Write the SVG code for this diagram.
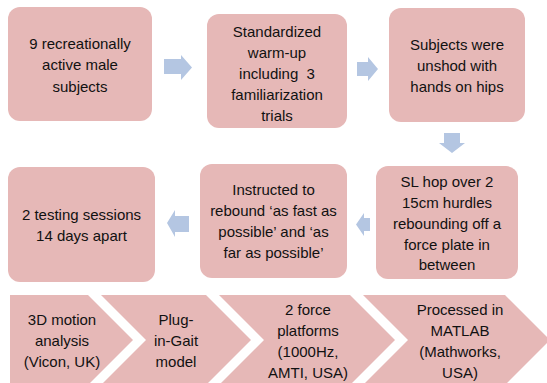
<svg xmlns="http://www.w3.org/2000/svg" width="547" height="383" viewBox="0 0 547 383">
  <style>
    .box { fill: #E6B8B7; }
    .arr { fill: #B4C6E2; }
    text { font-family: "Liberation Sans", Arial, sans-serif; font-size: 15px; fill: #111; text-anchor: middle; }
  </style>
  <rect width="547" height="383" fill="#ffffff"/>
  <g id="connectors">
    <polygon class="arr" points="164,59 181,59 181,55 192,67.5 181,80 181,74 164,74"/>
    <polygon class="arr" points="357,62 368,62 368,57 378,69 368,81 368,76 357,76"/>
    <polygon class="arr" points="444,133 460,133 460,143 465,143 452,153 439,143 444,143"/>
    <polygon class="arr" points="189,216 175,216 175,210 167,223 175,237 175,232 189,232"/>
    <polygon class="arr" points="370,218 364,218 364,213 356,224.5 364,236 364,231 370,231"/>
  </g>
  <g id="n1">
    <rect class="box" x="8" y="7" width="144" height="114" rx="12"/>
    <text x="80" y="48.5">9 recreationally</text>
    <text x="80" y="70">active male</text>
    <text x="80" y="91.5">subjects</text>
  </g>
  <g id="n2">
    <rect class="box" x="207" y="14" width="140" height="114" rx="12"/>
    <text x="277" y="37">Standardized</text>
    <text x="277" y="58">warm-up</text>
    <text x="277" y="79" xml:space="preserve">including  3</text>
    <text x="277" y="100">familiarization</text>
    <text x="277" y="121">trials</text>
  </g>
  <g id="n3">
    <rect class="box" x="389" y="8" width="136" height="114" rx="12"/>
    <text x="457" y="50">Subjects were</text>
    <text x="457" y="71">unshod with</text>
    <text x="457" y="92">hands on hips</text>
  </g>
  <g id="n4">
    <rect class="box" x="376" y="166" width="142" height="113" rx="12"/>
    <text x="447" y="187">SL hop over 2</text>
    <text x="447" y="208">15cm hurdles</text>
    <text x="447" y="229">rebounding off a</text>
    <text x="447" y="250">force plate in</text>
    <text x="447" y="270">between</text>
  </g>
  <g id="n5">
    <rect class="box" x="200" y="164" width="147" height="114" rx="12"/>
    <text x="273.5" y="195">Instructed to</text>
    <text x="273.5" y="216">rebound ‘as fast as</text>
    <text x="273.5" y="237">possible’ and ‘as</text>
    <text x="273.5" y="258">far as possible’</text>
  </g>
  <g id="n6">
    <rect class="box" x="8" y="167" width="147" height="115" rx="12"/>
    <text x="81.5" y="220">2 testing sessions</text>
    <text x="81.5" y="241">14 days apart</text>
  </g>
  <g id="c1">
    <polygon class="box" points="10,295 88,295 133,340 88,385 10,385"/>
    <text x="62" y="325">3D motion</text>
    <text x="62" y="346">analysis</text>
    <text x="62" y="367">(Vicon, UK)</text>
  </g>
  <g id="c2">
    <polygon class="box" points="101,295 206,295 251,340 206,385 101,385 146,340"/>
    <text x="176" y="325">Plug-</text>
    <text x="176" y="346">in-Gait</text>
    <text x="176" y="367">model</text>
  </g>
  <g id="c3">
    <polygon class="box" points="219,295 350,295 395,340 350,385 219,385 264,340"/>
    <text x="308" y="315">2 force</text>
    <text x="308" y="336">platforms</text>
    <text x="308" y="357">(1000Hz,</text>
    <text x="308" y="378">AMTI, USA)</text>
  </g>
  <g id="c4">
    <polygon class="box" points="363,295 505,295 550,340 505,385 363,385 408,340"/>
    <text x="460" y="315">Processed in</text>
    <text x="460" y="336">MATLAB</text>
    <text x="460" y="357">(Mathworks,</text>
    <text x="460" y="378">USA)</text>
  </g>
</svg>
